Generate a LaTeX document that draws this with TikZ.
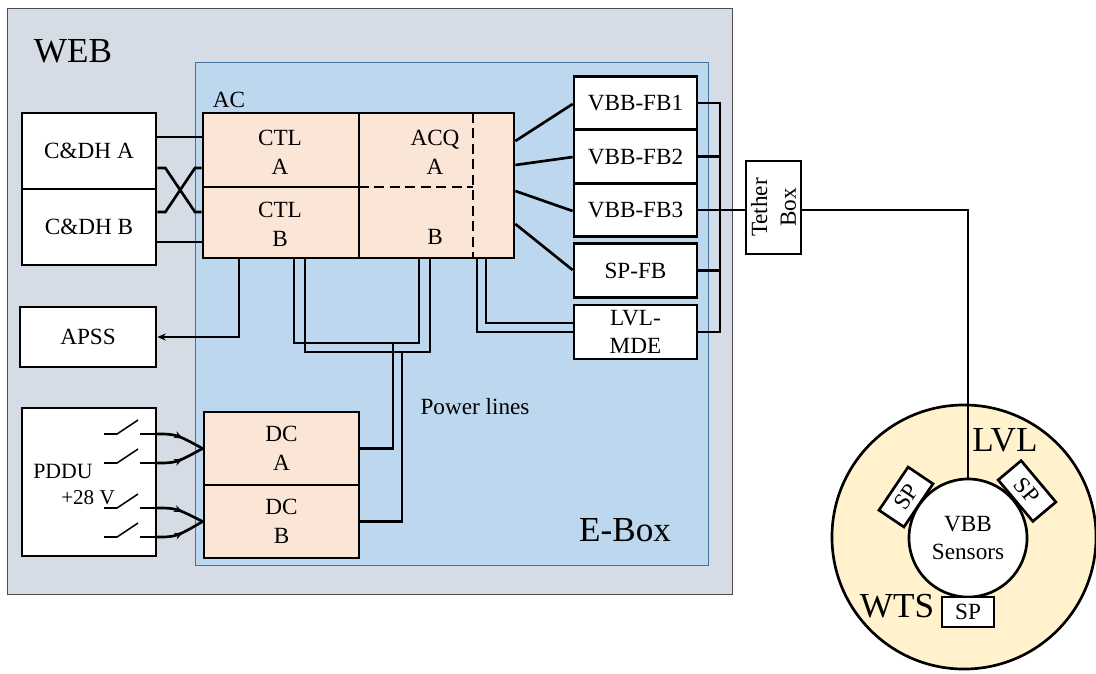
\documentclass[tikz,border=0pt]{standalone}
\usepackage{fontspec}
\setmainfont{Liberation Serif}
\usetikzlibrary{arrows.meta,decorations.markings}

\definecolor{webgray}{HTML}{D6DCE5}
\definecolor{eboxblue}{HTML}{BDD7EE}
\definecolor{eboxedge}{HTML}{41719C}
\definecolor{acpeach}{HTML}{FBE5D6}
\definecolor{lvlcream}{HTML}{FFF2CC}

\tikzset{
  every node/.style={font=\fontsize{16.5}{20.5}\selectfont},
  big/.style={font=\fontsize{25}{30}\selectfont},
  box/.style={draw,line width=1.9pt,fill=white,inner sep=0pt,align=center},
  wire/.style={line width=1.9pt},
  feed/.style={wire,postaction={decorate},
    decoration={markings,mark=at position 0.55 with {\arrow{Stealth[length=6pt,width=5pt]}}}},
}

\begin{document}
\begin{tikzpicture}[x=0.025cm,y=-0.025cm]
\useasboundingbox (0,0) rectangle (1096,673);
\draw[fill=webgray,draw=black!70] (7,8) rectangle (732,594);
\node[big] (web) at (73,51) {WEB};
\draw[fill=eboxblue,draw=eboxedge] (195,62) rectangle (708,565);
\node[big] (ebox) at (625,530) {E-Box};

\node[box,fill=acpeach,minimum width=7.775cm,minimum height=3.625cm] (ac) at (358.5,185.5) {};
\node (aclabel) at (229,100) {AC};
\draw[wire] (359,113) -- (359,258) (203,187) -- (359,187);
\draw[wire,dash pattern=on 7pt off 4pt] (359,187) -- (473,187) (473,113) -- (473,258);
\node[align=center] (ctlA) at (280,152) {CTL\\A};
\node[align=center] (ctlB) at (280,224) {CTL\\B};
\node[align=center] (acqA) at (435,152) {ACQ\\A};
\node (acqB) at (435,237) {B};

\node[box,minimum width=3.35cm,minimum height=1.9cm] (cdhA) at (89,151) {C\&DH A};
\node[box,minimum width=3.35cm,minimum height=1.9cm] (cdhB) at (89,227) {C\&DH B};
\draw[wire] (cdhA.east |- 0,137) -- (ac.west |- 0,137);
\draw[wire] (cdhA.east |- 0,168) -- ++(8,0) -- (195,212) -- (ac.west |- 0,212);
\draw[wire] (cdhB.east |- 0,212) -- ++(8,0) -- (195,168) -- (ac.west |- 0,168);
\draw[wire] (cdhB.east |- 0,242) -- (ac.west |- 0,242);

\node[box,minimum width=3.4cm,minimum height=1.5cm] (apss) at (88,337) {APSS};
\draw[wire,-{Stealth[length=6pt,width=5pt]}] (ac.south -| 239,0) |- (apss.east);

\node[box,fill=acpeach,minimum width=3.875cm,minimum height=1.825cm] (dcA) at (281.5,448.5) {DC\\A};
\node[box,fill=acpeach,minimum width=3.875cm,minimum height=1.825cm] (dcB) at (281.5,521.5) {DC\\B};
\draw[wire] (ac.south -| 294,0) |- (419,343) -- (ac.south -| 419,0);
\draw[wire] (ac.south -| 305,0) |- (430,352) -- (ac.south -| 430,0);
\draw[wire] (393,343) |- (dcA.east);
\draw[wire] (402,352) |- (dcB.east);
\node (pwr) at (475,407) {Power lines};

\node[box,minimum width=3.35cm,minimum height=3.7cm] (pddu) at (89,482) {};
\node[font=\fontsize{15.5}{18}\selectfont] (pddulabel) at (63,471) {PDDU};
\node[font=\fontsize{15}{18}\selectfont] (volt) at (88,498) {+28 V};
\foreach \y/\dc in {434/dcA,463/dcA,508/dcB,537/dcB} {
  \draw[line width=1.1pt] (104,\y) -- (117,\y) -- (138,\y-14) (140,\y) -- (156,\y);
  \draw[feed] (156,\y) .. controls (176,\y) .. (\dc.west);
}

\foreach \n/\t/\y in {fbA/VBB-FB1/103,fbB/VBB-FB2/156.5,fbC/VBB-FB3/210,spfb/SP-FB/270.5}
  \node[box,minimum width=3.075cm,minimum height=1.3375cm] (\n) at (635.5,\y) {\t};
\node[box,minimum width=3.075cm,minimum height=1.35cm] (lvlmde) at (635.5,332) {LVL-\\MDE};
\foreach \a/\b/\n in {141/104/fbA,165/157/fbB,191/211/fbC,224/270/spfb}
  \draw[wire] (ac.east |- 0,\a) -- (\n.west |- 0,\b);
\draw[wire] (ac.south -| 477,0) |- (lvlmde.west |- 0,332);
\draw[wire] (ac.south -| 486,0) |- (lvlmde.west |- 0,323);

\coordinate (busT) at (720,103);
\coordinate (busB) at (720,332);
\draw[wire] (fbA.east) -- (busT) -- (busB) -- (lvlmde.east);
\foreach \n in {fbB,spfb} \draw[wire] (\n.east) -- (\n.east -| busT);

\node[box,minimum width=1.375cm,minimum height=2.325cm] (tether) at (773.5,207.5) {};
\node[rotate=90,align=center] (tetherlabel) at (tether.center) {Tether\\Box};
\draw[wire] (fbC.east) -- (tether.west |- fbC.east);

\node[circle,draw,line width=1.9pt,fill=lvlcream,minimum size=6.6cm] (lvl) at (964,537) {};
\node[big] (lvllabel) at (1005,440) {LVL};
\node[big] (wts) at (897,606) {WTS};
\node[box,minimum width=1.3cm,minimum height=0.75cm,rotate=56] (spL) at (906,497) {SP};
\node[box,minimum width=1.35cm,minimum height=0.75cm,rotate=-50] (spR) at (1027,491) {SP};
\node[circle,draw,line width=1.9pt,fill=white,minimum size=2.95cm,align=center] (vbb) at (968,538) {VBB\\Sensors};
\node[box,minimum width=1.3cm,minimum height=0.75cm] (spB) at (968,612) {SP};
\draw[wire] (tether.east |- fbC.east) -| (vbb.north);
\end{tikzpicture}
\end{document}
